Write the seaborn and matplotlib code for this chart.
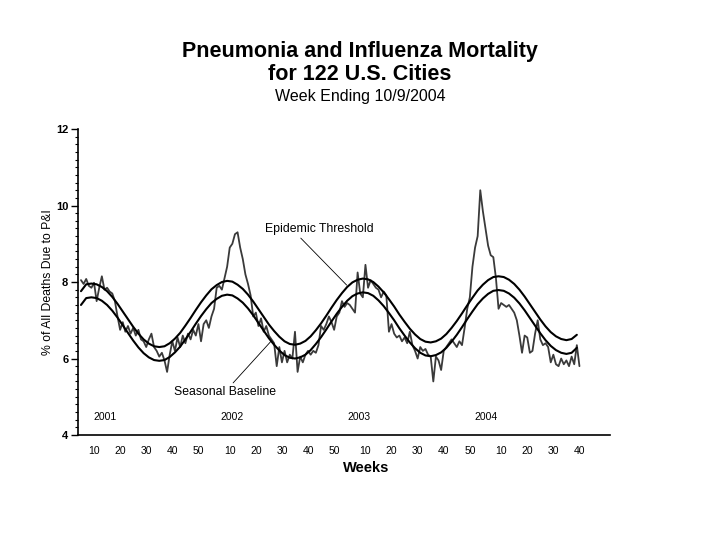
import matplotlib
matplotlib.use("Agg")
import numpy as np
import pandas as pd
import matplotlib.pyplot as plt
import seaborn as sns
from matplotlib.ticker import MultipleLocator

# ==============================
# Datos
# ==============================
first_year = 2001
first_week = 5          # semana del primer punto

# % de muertes por neumonía e influenza, semanal (2001 sem 5 -> 2004 sem 40)
pi_pct = [
    8.05, 7.95, 8.08, 7.90, 7.85, 7.98, 7.50, 7.85, 8.15, 7.80,
    7.85, 7.75, 7.70, 7.50, 7.10, 6.75, 6.95, 6.70, 6.85, 6.65,
    6.80, 6.60, 6.75, 6.50, 6.45, 6.30, 6.50, 6.65, 6.30, 6.20,
    6.05, 6.15, 5.95, 5.65, 6.10, 6.45, 6.20, 6.55, 6.30, 6.60,
    6.40, 6.65, 6.50, 6.75, 6.60, 6.90, 6.45, 6.90, 7.00, 6.80,
    7.10, 7.30, 7.85, 7.90, 7.80, 8.10, 8.40, 8.90, 9.00, 9.25,
    9.30, 8.90, 8.60, 8.20, 7.95, 7.65, 7.10, 7.20, 6.85, 7.05,
    6.70, 6.85, 6.60, 6.50, 6.40, 5.80, 6.30, 5.90, 6.20, 5.90,
    6.10, 6.00, 6.70, 5.65, 6.05, 5.90, 6.10, 6.20, 6.10, 6.20,
    6.15, 6.35, 6.85, 6.75, 6.90, 7.10, 6.95, 6.75, 7.10, 7.20,
    7.50, 7.35, 7.45, 7.40, 7.30, 7.20, 8.25, 7.70, 7.60, 8.45,
    7.85, 8.05, 7.95, 7.85, 7.80, 7.60, 7.75, 7.65, 6.70, 6.90,
    6.65, 6.55, 6.60, 6.45, 6.55, 6.40, 6.70, 6.35, 6.20, 6.00,
    6.30, 6.20, 6.25, 6.10, 6.05, 5.40, 6.05, 5.95, 5.70, 6.20,
    6.30, 6.40, 6.50, 6.40, 6.30, 6.45, 6.35, 6.80, 7.30, 7.60,
    8.40, 8.90, 9.20, 10.40, 9.85, 9.40, 8.95, 8.70, 8.65, 8.10,
    7.30, 7.45, 7.40, 7.35, 7.40, 7.30, 7.20, 7.00, 6.60, 6.15,
    6.60, 6.55, 6.15, 6.20, 6.65, 7.00, 6.50, 6.35, 6.40, 6.30,
    5.90, 6.10, 5.85, 5.80, 6.00, 5.85, 5.95, 5.80, 6.05, 5.85,
    6.35, 5.80,
]

# curvas suaves, cada 2 semanas
curve_idx = list(range(0, 192, 2))
baseline = [
    7.40, 7.58, 7.60, 7.58, 7.51, 7.40, 7.25, 7.07, 6.87, 6.67,
    6.47, 6.29, 6.14, 6.03, 5.96, 5.94, 5.96, 6.04, 6.16, 6.31,
    6.50, 6.70, 6.91, 7.11, 7.29, 7.45, 7.56, 7.64, 7.67, 7.65,
    7.57, 7.46, 7.31, 7.13, 6.93, 6.73, 6.53, 6.36, 6.21, 6.09,
    6.02, 6.00, 6.03, 6.10, 6.22, 6.38, 6.56, 6.76, 6.97, 7.17,
    7.35, 7.51, 7.63, 7.70, 7.73, 7.71, 7.64, 7.52, 7.37, 7.19,
    7.00, 6.79, 6.60, 6.42, 6.27, 6.15, 6.08, 6.06, 6.09, 6.16,
    6.28, 6.44, 6.62, 6.82, 7.03, 7.23, 7.42, 7.57, 7.69, 7.77,
    7.79, 7.77, 7.70, 7.59, 7.44, 7.26, 7.06, 6.86, 6.66, 6.48,
    6.33, 6.22, 6.15, 6.12, 6.15, 6.28,
]
threshold = [
    7.76, 7.94, 7.96, 7.94, 7.87, 7.76, 7.61, 7.43, 7.23, 7.03,
    6.83, 6.65, 6.50, 6.39, 6.32, 6.30, 6.32, 6.40, 6.52, 6.67,
    6.86, 7.06, 7.27, 7.47, 7.65, 7.81, 7.92, 8.00, 8.03, 8.01,
    7.93, 7.82, 7.67, 7.49, 7.29, 7.09, 6.89, 6.72, 6.57, 6.45,
    6.38, 6.36, 6.39, 6.46, 6.58, 6.74, 6.92, 7.12, 7.33, 7.53,
    7.71, 7.87, 7.99, 8.06, 8.09, 8.07, 8.00, 7.88, 7.73, 7.55,
    7.36, 7.15, 6.96, 6.78, 6.63, 6.51, 6.44, 6.42, 6.45, 6.52,
    6.64, 6.80, 6.98, 7.18, 7.39, 7.59, 7.78, 7.93, 8.05, 8.13,
    8.15, 8.13, 8.06, 7.95, 7.80, 7.62, 7.42, 7.22, 7.02, 6.84,
    6.69, 6.58, 6.51, 6.48, 6.51, 6.62,
]

# etiquetas del eje x (semana, año)
tick_weeks = [10, 20, 30, 40, 50, 10, 20, 30, 40, 50, 10, 20, 30, 40, 50, 10, 20, 30, 40]
tick_years = [2001] * 5 + [2002] * 5 + [2003] * 5 + [2004] * 4
year_labels = ["2001", "2002", "2003", "2004"]

# ==============================
# Gráfico
# ==============================
sns.set_theme(style="white")
plt.rcParams["font.family"] = ["Liberation Sans", "DejaVu Sans"]
plt.rcParams["text.color"] = "black"
plt.rcParams["axes.labelcolor"] = "black"
plt.rcParams["xtick.color"] = "black"
plt.rcParams["ytick.color"] = "black"

df = pd.DataFrame({"idx": range(len(pi_pct)), "pct": pi_pct})
df_curves = pd.DataFrame({"idx": curve_idx, "base": baseline, "thr": threshold})

fig = plt.figure(figsize=(7.2, 5.4), dpi=100)
ax = fig.add_axes([0.1083, 0.1944, 0.7389, 0.5667])

sns.lineplot(data=df, x="idx", y="pct", color="#3a3a3a", lw=1.3, ax=ax)
sns.lineplot(data=df_curves, x="idx", y="thr", color="black", lw=1.5, ax=ax)
sns.lineplot(data=df_curves, x="idx", y="base", color="black", lw=1.5, ax=ax)

ax.set_xlim(-1.15, 202.7)
ax.set_ylim(4, 12)

# eje y
ax.yaxis.set_major_locator(MultipleLocator(2))
ax.yaxis.set_minor_locator(MultipleLocator(0.2))
ax.tick_params(axis="y", which="major", direction="out", length=5, width=1,
               color="black", labelsize=8, pad=2, left=True)
ax.tick_params(axis="y", which="minor", direction="out", length=2.5, width=0.8,
               color="black", left=True)
for lab in ax.get_yticklabels():
    lab.set_fontweight("bold")

# eje x
tick_pos = [(y - first_year) * 52 + w - first_week for w, y in zip(tick_weeks, tick_years)]
ax.set_xticks(tick_pos)
ax.set_xticklabels([str(w) for w in tick_weeks])
ax.tick_params(axis="x", length=0, labelsize=7.5, pad=8)

for side in ["top", "right"]:
    ax.spines[side].set_visible(False)
for side in ["left", "bottom"]:
    ax.spines[side].set_color("black")
    ax.spines[side].set_linewidth(1.2)

ax.set_xlabel("Weeks", fontsize=10.5, fontweight="bold", va="center")
ax.xaxis.set_label_coords(0.541, -0.108)
ax.set_ylabel("% of All Deaths Due to P&I", fontsize=8.8)
ax.yaxis.set_label_coords(-0.045, 0.5)

# años
for pos, txt in zip([9.2, 57.9, 106.5, 155.2], year_labels):
    ax.text(pos, 4.47, txt, fontsize=7.5, ha="center", va="center")

# anotaciones
ax.annotate("Epidemic Threshold", xy=(101.8, 7.92), xytext=(70.5, 9.39),
            fontsize=8.8, ha="left", va="center",
            arrowprops=dict(arrowstyle="-", color="black", lw=0.6,
                            shrinkA=0, shrinkB=0, relpos=(0.3, 0.0)))
ax.annotate("Seasonal Baseline", xy=(72.8, 6.45), xytext=(55.2, 5.12),
            fontsize=8.8, ha="center", va="center",
            arrowprops=dict(arrowstyle="-", color="black", lw=0.6,
                            shrinkA=0, shrinkB=0, relpos=(0.55, 1.0)))

# títulos
fig.text(0.5, 1 - 52 / 540, "Pneumonia and Influenza Mortality", ha="center", va="center",
         fontsize=15.5, fontweight="bold")
fig.text(0.5, 1 - 75 / 540, "for 122 U.S. Cities", ha="center", va="center",
         fontsize=15.5, fontweight="bold")
fig.text(0.5, 1 - 97 / 540, "Week Ending 10/9/2004", ha="center", va="center",
         fontsize=11.5)

fig.savefig("out.png", dpi=100)
